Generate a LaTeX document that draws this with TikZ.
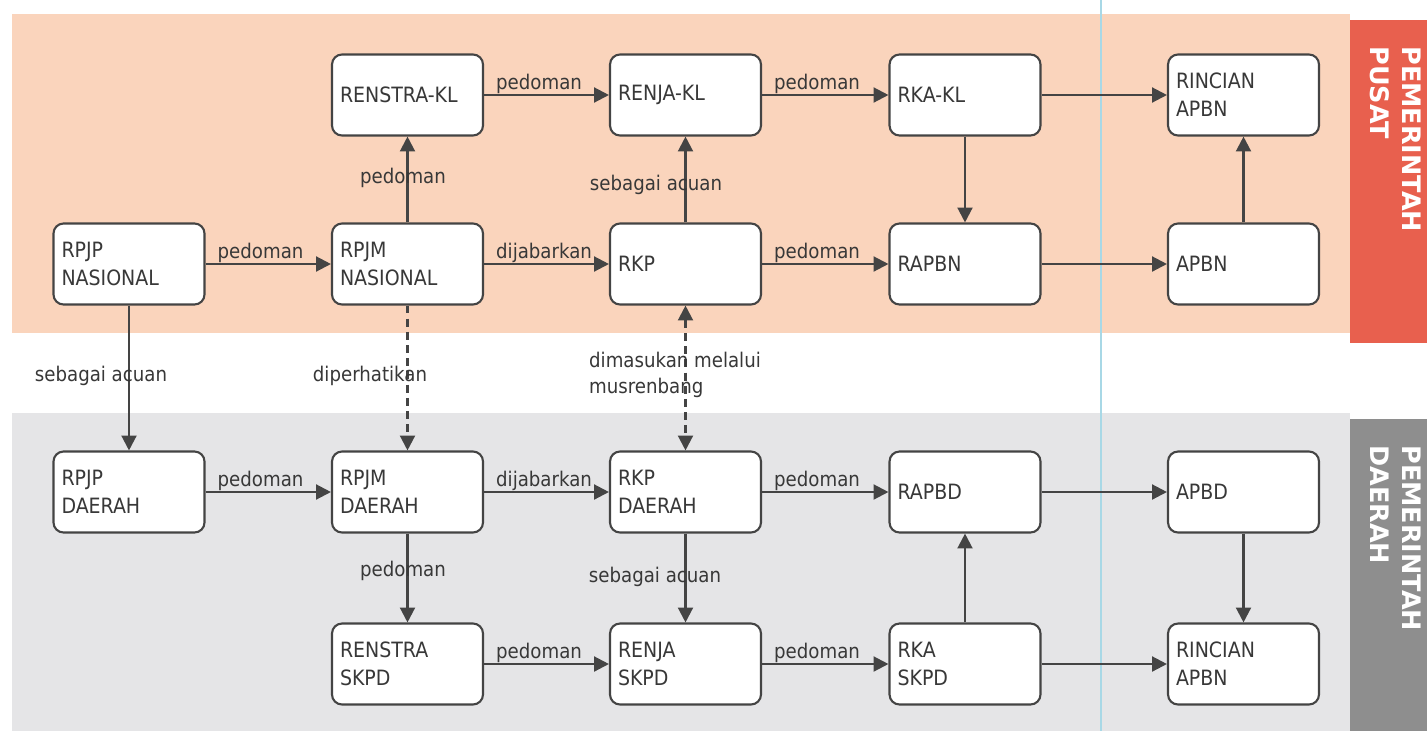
\documentclass[tikz,border=0pt]{standalone}
\usepackage{fontspec}
\setmainfont{DejaVu Sans Condensed}
\newfontfamily\bandfont{DejaVu Sans}
\usetikzlibrary{arrows.meta}
\definecolor{bgorange}{HTML}{FAD4BC}
\definecolor{stripred}{HTML}{E8604E}
\definecolor{bggray}{HTML}{E5E5E7}
\definecolor{stripgray}{HTML}{8E8E8E}
\definecolor{ink}{HTML}{444444}
\definecolor{txt}{HTML}{383838}
\definecolor{guide}{HTML}{A8D8E6}
\newcommand\lowtext[1]{\raisebox{-0.09cm}{#1}}
\begin{document}
\begin{tikzpicture}[x=0.02cm,y=-0.02cm,
  box/.style={draw=ink, line width=1.2pt, fill=white, rounded corners=0.2cm,
    minimum width=3.02cm, minimum height=1.62cm, text width=2.7cm, inner sep=0.16cm,
    align=left, font=\fontsize{12}{16}\selectfont, text=txt},
  conn/.style={draw=ink, line width=1.3pt, -{Triangle[length=8.5pt,width=8.5pt]}},
  dconn/.style={conn, dash pattern=on 4.5pt off 3pt},
  dboth/.style={draw=ink, line width=1.3pt, dash pattern=on 4.5pt off 3pt,
    {Triangle[length=8.5pt,width=8.5pt]}-{Triangle[length=8.5pt,width=8.5pt]}},
  lbl/.style={font=\fontsize{11.5}{15}\selectfont, text=txt, inner sep=0pt},
  hl/.style={lbl, pos=0, anchor=base west, xshift=0.22cm, yshift=0.12cm},
  band/.style={rotate=-90, anchor=base west, text=white,
    font=\bandfont\bfseries\fontsize{14.5}{18}\selectfont, inner sep=0pt}]
\useasboundingbox (0,0) rectangle (1427,731);
\fill[white] (0,0) rectangle (1427,731);
% backgrounds
\fill[bgorange] (12,14) rectangle (1350,333);
\fill[stripred] (1350,20) rectangle (1427,343);
\fill[bggray] (12,413) rectangle (1350,731);
\fill[stripgray] (1350,419) rectangle (1427,731);
\draw[guide, line width=0.6pt] (1101,0) -- (1101,731);
% band titles
\node[band] (pp1) at (1402,46) {PEMERINTAH};
\node[band] (pp2) at (1370,46) {PUSAT};
\node[band] (pd1) at (1402,445) {PEMERINTAH};
\node[band] (pd2) at (1370,445) {DAERAH};
% row 1
\node[box] (renstrakl) at (407.5,95) {\lowtext{RENSTRA-KL}};
\node[box] (renjakl) at (685.5,95) {\lowtext{RENJA-KL}};
\node[box] (rkakl) at (965,95) {\lowtext{RKA-KL}};
\node[box] (rincianA) at (1243.5,95) {RINCIAN\\APBN};
% row 2
\node[box] (rpjpn) at (129,264) {RPJP\\NASIONAL};
\node[box] (rpjmn) at (407.5,264) {RPJM\\NASIONAL};
\node[box] (rkp) at (685.5,264) {\lowtext{RKP}};
\node[box] (rapbn) at (965,264) {\lowtext{RAPBN}};
\node[box] (apbn) at (1243.5,264) {\lowtext{APBN}};
% row 3
\node[box] (rpjpd) at (129,492) {RPJP\\DAERAH};
\node[box] (rpjmd) at (407.5,492) {RPJM\\DAERAH};
\node[box] (rkpd) at (685.5,492) {RKP\\DAERAH};
\node[box] (rapbd) at (965,492) {\lowtext{RAPBD}};
\node[box] (apbd) at (1243.5,492) {\lowtext{APBD}};
% row 4
\node[box] (renstraskpd) at (407.5,664) {RENSTRA\\SKPD};
\node[box] (renjaskpd) at (685.5,664) {RENJA\\SKPD};
\node[box] (rkaskpd) at (965,664) {RKA\\SKPD};
\node[box] (rincianB) at (1243.5,664) {RINCIAN\\APBN};
% horizontal connectors
\draw[conn] (renstrakl) -- node[hl]{pedoman} (renjakl);
\draw[conn] (renjakl) -- node[hl]{pedoman} (rkakl);
\draw[conn] (rkakl) -- (rincianA);
\draw[conn] (rpjpn) -- node[hl]{pedoman} (rpjmn);
\draw[conn] (rpjmn) -- node[hl]{dijabarkan} (rkp);
\draw[conn] (rkp) -- node[hl]{pedoman} (rapbn);
\draw[conn] (rapbn) -- (apbn);
\draw[conn] (rpjpd) -- node[hl]{pedoman} (rpjmd);
\draw[conn] (rpjmd) -- node[hl]{dijabarkan} (rkpd);
\draw[conn] (rkpd) -- node[hl]{pedoman} (rapbd);
\draw[conn] (rapbd) -- (apbd);
\draw[conn] (renstraskpd) -- node[hl]{pedoman} (renjaskpd);
\draw[conn] (renjaskpd) -- node[hl]{pedoman} (rkaskpd);
\draw[conn] (rkaskpd) -- (rincianB);
% vertical connectors
\draw[conn] (rpjmn) -- node[lbl, xshift=-0.09cm, yshift=0.03cm]{pedoman} (renstrakl);
\draw[conn] (rkp) -- node[lbl, xshift=-0.59cm, yshift=-0.11cm]{sebagai acuan} (renjakl);
\draw[conn] (rkakl) -- (rapbn);
\draw[conn] (apbn) -- (rincianA);
\draw[conn] (rpjpn) -- node[lbl, xshift=-0.56cm, yshift=0.04cm]{sebagai acuan} (rpjpd);
\draw[dconn] (rpjmn) -- node[lbl, xshift=-0.75cm, yshift=0.04cm]{diperhatikan} (rpjmd);
\draw[dboth] (rkp) -- node[lbl, anchor=west, align=left, xshift=-1.95cm, yshift=0.06cm]{dimasukan melalui\\musrenbang} (rkpd);
\draw[conn] (rpjmd) -- node[lbl, xshift=-0.09cm, yshift=0.14cm]{pedoman} (renstraskpd);
\draw[conn] (rkpd) -- node[lbl, xshift=-0.61cm, yshift=0.02cm]{sebagai acuan} (renjaskpd);
\draw[conn] (rkaskpd) -- (rapbd);
\draw[conn] (apbd) -- (rincianB);
\end{tikzpicture}
\end{document}
